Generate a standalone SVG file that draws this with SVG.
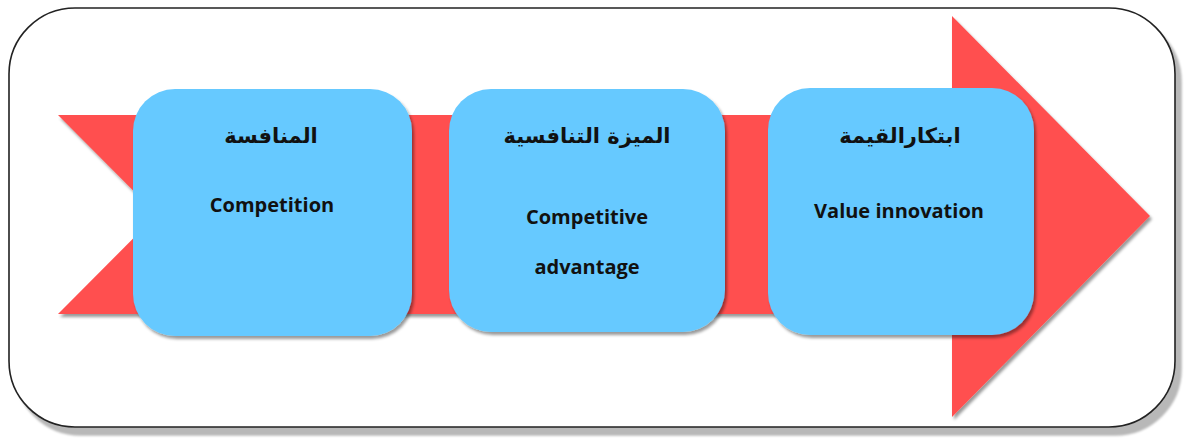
<svg xmlns="http://www.w3.org/2000/svg" width="1184" height="439" viewBox="0 0 1184 439">
  <style>
    .frame { fill: #ffffff; stroke: #222222; stroke-width: 1.6; }
    .arrow { fill: #ff5050; }
    .box { fill: #66c9ff; }
    .ar { font-family: "DejaVu Sans", "Noto Sans", sans-serif; font-size: 21px; font-weight: bold; fill: #111111; text-anchor: middle; }
    .en { font-family: "Open Sans", "Liberation Sans", sans-serif; font-size: 20px; font-weight: bold; fill: #111111; text-anchor: middle; }
  </style>
  <defs>
    <filter id="shadow" x="-10%" y="-10%" width="125%" height="125%">
      <feDropShadow dx="2" dy="3" stdDeviation="1.5" flood-color="#000000" flood-opacity="0.4"/>
    </filter>
    <filter id="frameShadow" x="-5%" y="-5%" width="110%" height="115%">
      <feDropShadow dx="6" dy="8" stdDeviation="1" flood-color="#000000" flood-opacity="0.28"/>
    </filter>
  </defs>

  <!-- outer frame -->
  <rect class="frame" x="9" y="8" width="1166" height="419" rx="66" ry="66" filter="url(#frameShadow)"/>

  <!-- process arrow behind the stages -->
  <g id="connectors">
    <path class="arrow" filter="url(#shadow)" d="M58,115 L952,115 L952,16 L1150,216 L952,417 L952,314 L58,314 L157,214.5 Z"/>
  </g>

  <g id="stage-competition">
    <rect class="box" x="133" y="89" width="279" height="247" rx="42" ry="42" filter="url(#shadow)"/>
    <text class="ar" x="271" y="143" direction="rtl">المنافسة</text>
    <text class="en" x="272" y="212">Competition</text>
  </g>

  <g id="stage-advantage">
    <rect class="box" x="449" y="89" width="276" height="243" rx="42" ry="42" filter="url(#shadow)"/>
    <text class="ar" x="587" y="143" direction="rtl">الميزة التنافسية</text>
    <text class="en" x="587" y="224">Competitive</text>
    <text class="en" x="587" y="274">advantage</text>
  </g>

  <g id="stage-value">
    <rect class="box" x="768" y="88" width="266" height="247" rx="42" ry="42" filter="url(#shadow)"/>
    <text class="ar" x="900" y="143" direction="rtl">ابتكارالقيمة</text>
    <text class="en" x="899" y="218">Value innovation</text>
  </g>
</svg>
